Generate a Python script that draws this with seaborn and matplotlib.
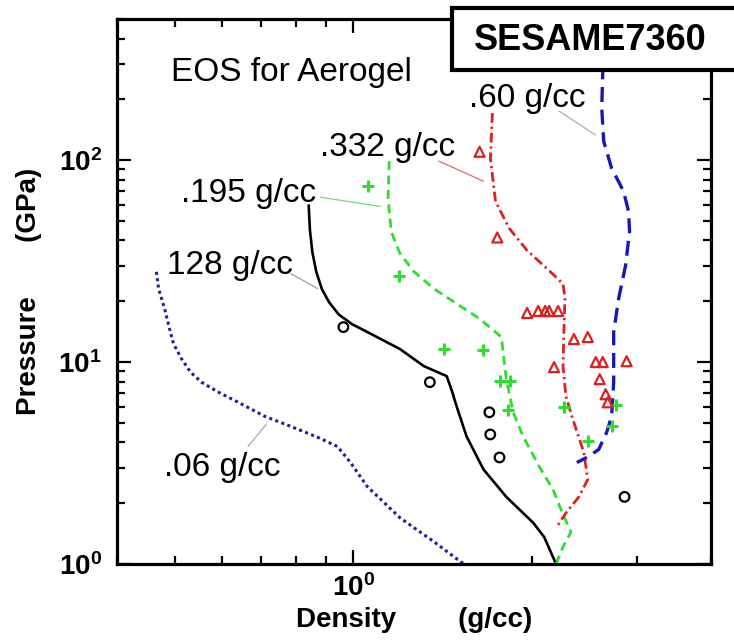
import matplotlib
matplotlib.use("Agg")
import matplotlib.pyplot as plt
import matplotlib.ticker as mticker
from matplotlib.patches import Rectangle
import seaborn as sns

# ---------------- data ----------------
# .06 g/cc (blue dotted)
d06_x = [0.466, 0.470, 0.481, 0.489, 0.498, 0.514, 0.532, 0.555, 0.593, 0.640,
         0.710, 0.785, 0.871, 0.940, 0.989, 1.055, 1.199, 1.366, 1.534]
d06_y = [28.0, 23.1, 18.4, 15.1, 12.3, 10.35, 8.91, 7.95, 7.09, 6.32,
         5.38, 4.80, 4.24, 3.82, 3.18, 2.42, 1.69, 1.29, 1.0]

# .128 g/cc (black solid)
d128_x = [0.841, 0.845, 0.853, 0.866, 0.885, 0.910, 0.945, 0.995, 1.055, 1.198,
          1.314, 1.436, 1.465, 1.492, 1.551, 1.656, 1.809, 2.008, 2.095, 2.194]
d128_y = [59.7, 45.0, 35.0, 28.0, 23.0, 19.8, 17.2, 15.4, 14.1, 11.6,
          9.55, 8.52, 7.2, 6.04, 4.28, 2.94, 2.15, 1.60, 1.36, 1.0]

# .195 g/cc (green dashed)
d195_x = [1.149, 1.144, 1.158, 1.198, 1.265, 1.366, 1.475, 1.631, 1.775, 1.809,
          1.858, 1.931, 2.055, 2.169, 2.236, 2.324, 2.254, 2.194]
d195_y = [98.9, 64.7, 44.3, 34.5, 28.0, 23.1, 19.9, 16.4, 13.3, 8.23,
          5.64, 4.28, 3.04, 2.33, 1.86, 1.44, 1.215, 1.0]

# .332 g/cc (red dash-dot)
d332_x = [1.714, 1.701, 1.735, 1.830, 1.961, 2.119, 2.254, 2.271, 2.262, 2.254,
          2.279, 2.342, 2.443, 2.481, 2.397, 2.279, 2.211]
d332_y = [171, 102, 62.5, 45.9, 35.7, 29.0, 24.4, 20.6, 14.6, 9.55,
          6.77, 5.20, 3.57, 2.62, 2.15, 1.79, 1.56]

# .60 g/cc (blue long dashes)
d60_x = [2.639, 2.629, 2.619, 2.639, 2.721, 2.850, 2.906, 2.917, 2.872, 2.796,
         2.743, 2.743, 2.721, 2.669, 2.588, 2.490, 2.378]
d60_y = [500, 271, 181, 124, 91.2, 70.1, 55.7, 44.3, 30.0, 20.6,
         14.1, 7.95, 5.38, 4.48, 3.69, 3.41, 3.18]

# experimental points
circ_x = [0.962, 1.345, 1.694, 1.700, 1.762, 2.861]
circ_y = [14.9, 7.95, 5.64, 4.38, 3.37, 2.15]

plus_x = [1.060, 1.194, 1.420, 1.656, 1.762, 1.837, 1.823, 2.262, 2.481, 2.764, 2.721]
plus_y = [74.3, 26.8, 11.6, 11.5, 8.04, 8.04, 5.77, 5.97, 4.05, 6.11, 4.80]

tri_x = [1.631, 1.747, 1.961, 2.047, 2.103, 2.136, 2.211, 2.351, 2.481, 2.177,
         2.559, 2.629, 2.598, 2.659, 2.680, 2.884]
tri_y = [110, 41.4, 17.5, 17.9, 17.9, 17.9, 17.9, 13.0, 13.3, 9.44,
         10.0, 10.0, 8.23, 6.93, 6.32, 10.1]

# curve labels
curve_labels = [".06 g/cc", "128 g/cc", ".195 g/cc", ".332 g/cc", ".60 g/cc"]
label_x = [0.602, 0.620, 0.667, 1.140, 1.962]
label_y = [3.0, 30.0, 68.5, 115, 203]
leader_x0 = [0.665, 0.785, 0.881, 1.393, 2.219]
leader_y0 = [3.82, 27.4, 65.5, 98.9, 175]
leader_x1 = [0.713, 0.871, 1.110, 1.656, 2.559]
leader_y1 = [4.91, 23.1, 59.0, 78.6, 133]
leader_colors = ["#a8a8a8", "#a0a0a0", "#70dd70", "#cc7070", "#a8a8b8"]

x_ticks = [1]
x_tick_labels = [r"$\mathbf{10^{0}}$"]
y_ticks = [1, 10, 100]
y_tick_labels = [r"$\mathbf{10^{0}}$", r"$\mathbf{10^{1}}$", r"$\mathbf{10^{2}}$"]

# ---------------- style ----------------
sns.set_style("ticks")
plt.rcParams["font.family"] = ["Liberation Sans", "DejaVu Sans"]
plt.rcParams["mathtext.fontset"] = "custom"
plt.rcParams["mathtext.rm"] = "Liberation Sans"
plt.rcParams["mathtext.bf"] = "Liberation Sans:bold"
plt.rcParams["axes.edgecolor"] = "black"
plt.rcParams["axes.labelcolor"] = "black"
plt.rcParams["text.color"] = "black"
plt.rcParams["xtick.color"] = "black"
plt.rcParams["ytick.color"] = "black"
plt.rcParams["xtick.labelcolor"] = "black"
plt.rcParams["ytick.labelcolor"] = "black"

fig = plt.figure(figsize=(7.34, 6.44), dpi=100)
ax = fig.add_axes([117 / 734, 80 / 644, 594 / 734, 545 / 644])
ax.set_xscale("log")
ax.set_yscale("log")

sns.lineplot(x=d06_x, y=d06_y, sort=False, estimator=None, ax=ax,
             color="#1f1f99", linewidth=2.2, linestyle=(0, (1, 1.1)))
sns.lineplot(x=d128_x, y=d128_y, sort=False, estimator=None, ax=ax,
             color="black", linewidth=1.9, linestyle="-")
sns.lineplot(x=d195_x, y=d195_y, sort=False, estimator=None, ax=ax,
             color="#2be02b", linewidth=2.0, linestyle=(0, (3.2, 2)))
sns.lineplot(x=d332_x, y=d332_y, sort=False, estimator=None, ax=ax,
             color="#dd1f1f", linewidth=2.0, linestyle=(0, (3.5, 1.4, 0.8, 1.4)))
sns.lineplot(x=d60_x, y=d60_y, sort=False, estimator=None, ax=ax,
             color="#1818b4", linewidth=2.4, linestyle=(0, (4.5, 2.3)))

sns.scatterplot(x=circ_x, y=circ_y, ax=ax, marker="o", s=48,
                color="black", facecolor="none", edgecolor="black", linewidth=1.6, zorder=4)
sns.scatterplot(x=plus_x, y=plus_y, ax=ax, marker="+", s=70,
                color="#2be02b", linewidth=2.2, zorder=4)
sns.scatterplot(x=tri_x, y=tri_y, ax=ax, marker="^", s=52,
                color="#dd1f1f", facecolor="none", edgecolor="#dd1f1f", linewidth=1.6, zorder=4)

for i, txt in enumerate(curve_labels):
    ax.plot([leader_x0[i], leader_x1[i]], [leader_y0[i], leader_y1[i]],
            color=leader_colors[i], linewidth=0.9)
    ax.text(label_x[i], label_y[i], txt, ha="center", va="center", fontsize=24)

ax.text(0.788, 271, "EOS for Aerogel", ha="center", va="center", fontsize=24)

ax.set_xlim(0.4, 4.0)
ax.set_ylim(1, 500)

ax.xaxis.set_major_locator(mticker.FixedLocator(x_ticks))
ax.xaxis.set_major_formatter(mticker.FixedFormatter(x_tick_labels))
ax.yaxis.set_major_locator(mticker.FixedLocator(y_ticks))
ax.yaxis.set_major_formatter(mticker.FixedFormatter(y_tick_labels))
ax.xaxis.set_minor_locator(mticker.LogLocator(base=10, subs=range(2, 10), numticks=20))
ax.yaxis.set_minor_locator(mticker.LogLocator(base=10, subs=range(2, 10), numticks=20))
ax.xaxis.set_minor_formatter(mticker.NullFormatter())
ax.yaxis.set_minor_formatter(mticker.NullFormatter())

ax.tick_params(which="both", direction="in", top=True, right=True, width=1.6, color="black")
ax.tick_params(which="major", length=10, labelsize=20)
ax.tick_params(which="minor", length=6)
ax.tick_params(axis="y", which="major", pad=11)
ax.tick_params(axis="x", which="major", pad=7)
for sp in ax.spines.values():
    sp.set_linewidth(2.3)
    sp.set_color("black")

ax.set_xlabel("Density        (g/cc)", fontsize=20, fontweight="bold")
ax.set_ylabel("Pressure       (GPa)", fontsize=20, fontweight="bold")
ax.xaxis.set_label_coords(0.5, -0.078)
ax.yaxis.set_label_coords(-0.126, 0.5)

# title box
fig.add_artist(Rectangle((452 / 734, (644 - 70) / 644), 0.5, 62 / 644,
                         transform=fig.transFigure, facecolor="white",
                         edgecolor="black", linewidth=3, zorder=5, clip_on=False))
fig.text(590 / 734, 1 - 40 / 644, "SESAME7360", ha="center", va="center",
         fontsize=26, fontweight="bold", zorder=6)

fig.savefig("out.png", dpi=100)
